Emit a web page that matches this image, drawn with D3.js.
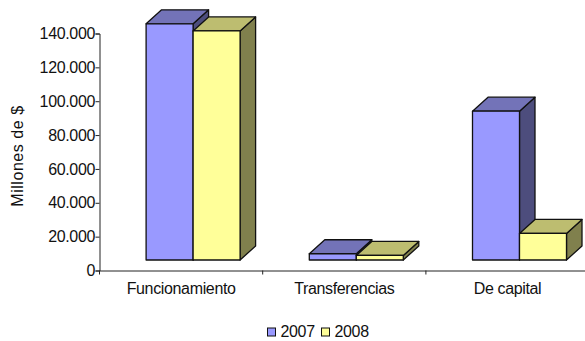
<!DOCTYPE html>
<html><head><meta charset="utf-8">
<script src="https://cdnjs.cloudflare.com/ajax/libs/d3/7.8.5/d3.min.js"></script>
<style>html,body{margin:0;padding:0;background:#fff}svg{display:block}text{font-family:"Liberation Sans",Arial,sans-serif;fill:#111}</style>
</head><body><div id="c"></div>
<script>
const categories = ["Funcionamiento","Transferencias","De capital"];
const seriesNames = ["2007","2008"];
const values2007 = [139500, 3700, 87900];
const values2008 = [135300, 2700, 15700];
const tickValues = [0,20000,40000,60000,80000,100000,120000,140000];
const yTitle = "Millones de $";
const colors = {
  "2007":{front:"#9999ff",top:"#7373b8",side:"#4d4d7d"},
  "2008":{front:"#ffff99",top:"#bdbd70",side:"#80804d"}
};
const W=585,H=341, axisX=99.5, axisY=270.5, topY=33.5, floor=10.5, dx=15.5, dy=14;
const fs=16, ls=-0.35;
const svg=d3.select("#c").append("svg").attr("width",W).attr("height",H);
const y=d3.scaleLinear().domain([0,140000]).range([axisY,topY]);
const x=d3.scaleBand().domain(categories).range([axisX,axisX+3*163.2]);
const barW=47, groupOffset=46.6;
const sub=d3.scaleBand().domain(seriesNames).range([0,barW*2]);
const fmt=v=>d3.format(",")(v).replace(/,/g,".");
const rows=[];
seriesNames.forEach((s,si)=>categories.forEach((c,ci)=>{
  rows.push({s,c,v:(si?values2008:values2007)[ci]});
}));
const g=svg.append("g").attr("stroke","#111").attr("stroke-width",1.3).attr("stroke-linejoin","round");
rows.sort((a,b)=>d3.ascending(categories.indexOf(a.c),categories.indexOf(b.c))||d3.ascending(a.s,b.s));
rows.forEach(d=>{
  const x0=x(d.c)+groupOffset+sub(d.s), x1=x0+sub.bandwidth();
  const yb=y(0)-floor, yt=y(d.v)-floor;
  const pts=a=>a.map(p=>p.join(",")).join(" ");
  g.append("polygon").attr("fill",colors[d.s].side).attr("points",pts([[x1,yt],[x1+dx,yt-dy],[x1+dx,yb-dy],[x1,yb]]));
  g.append("polygon").attr("fill",colors[d.s].top).attr("points",pts([[x0,yt],[x0+dx,yt-dy],[x1+dx,yt-dy],[x1,yt]]));
  g.append("rect").attr("fill",colors[d.s].front).attr("x",x0).attr("y",yt).attr("width",x1-x0).attr("height",yb-yt);
});
const ya=svg.append("g").attr("transform",`translate(${axisX},0)`)
  .call(d3.axisLeft(y).tickValues(tickValues).tickFormat(fmt).tickSize(4).tickPadding(0.5));
ya.selectAll("text").attr("font-size",fs).attr("letter-spacing",ls);
const xa=svg.append("g").attr("transform",`translate(0,${axisY})`)
  .call(d3.axisBottom(x).tickSize(0).tickPadding(12.5));
xa.selectAll("text").attr("font-size",fs).attr("letter-spacing",ls);
svg.append("g").attr("stroke","#222").selectAll("line").data([0,1,2]).join("line")
  .attr("x1",i=>x(categories[i])).attr("x2",i=>x(categories[i]))
  .attr("y1",axisY).attr("y2",axisY+4);
svg.selectAll(".domain,.tick line").attr("stroke","#222").attr("stroke-width",1);
svg.append("text").attr("transform","translate(22.5,156) rotate(-90)").attr("text-anchor","middle").attr("font-size",fs).attr("letter-spacing",0.55).text(yTitle);
const lx=[267,321];
const lg=svg.append("g");
seriesNames.forEach((s,i)=>{
  lg.append("rect").attr("x",lx[i]+.5).attr("y",328).attr("width",8).attr("height",8).attr("fill",colors[s].front).attr("stroke","#111");
  lg.append("text").attr("x",lx[i]+13.5).attr("y",337).attr("font-size",fs).attr("letter-spacing",ls).text(s);
});
</script></body></html>
